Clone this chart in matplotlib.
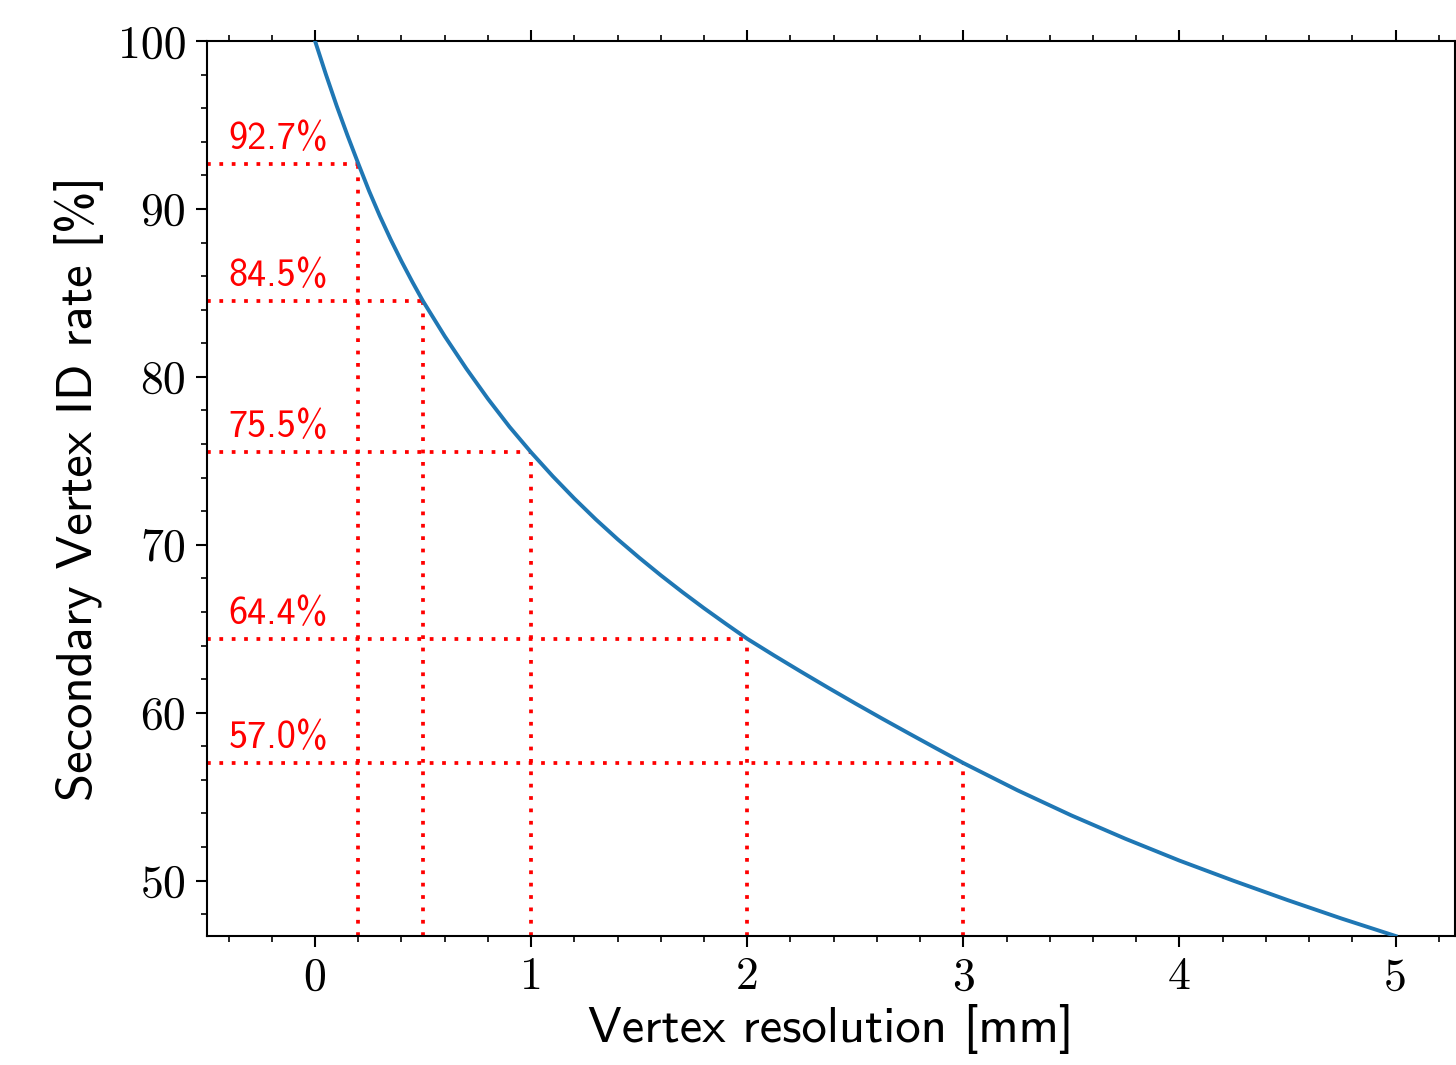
import matplotlib
matplotlib.use("Agg")
import matplotlib.pyplot as plt
from matplotlib.ticker import MultipleLocator

# Secondary vertex identification rate versus vertex resolution
resolution_mm = [0.0, 0.05, 0.1, 0.15, 0.2, 0.25, 0.3, 0.35, 0.4, 0.45, 0.5,
                 0.6, 0.7, 0.8, 0.9, 1.0, 1.1, 1.2, 1.3, 1.4, 1.5, 1.6, 1.7,
                 1.8, 1.9, 2.0, 2.125, 2.25, 2.375, 2.5, 2.625, 2.75, 2.875,
                 3.0, 3.25, 3.5, 3.75, 4.0, 4.25, 4.5, 4.75, 5.0]
id_rate_pct = [100.0, 98.02, 96.14, 94.38, 92.7, 91.07, 89.57, 88.18, 86.88, 85.66, 84.5,
               82.42, 80.49, 78.69, 77.02, 75.5, 74.08, 72.75, 71.5, 70.33, 69.23,
               68.18, 67.18, 66.22, 65.3, 64.4, 63.4, 62.43, 61.48, 60.55, 59.64,
               58.75, 57.87, 57.0, 55.38, 53.88, 52.49, 51.19, 49.99, 48.84, 47.74, 46.7]

# Highlighted working points
mark_res = [0.2, 0.5, 1.0, 2.0, 3.0]
mark_rate = [92.7, 84.5, 75.5, 64.4, 57.0]

x_ticks = [0, 1, 2, 3, 4, 5]
y_ticks = [50, 60, 70, 80, 90, 100]

serif = "cmr10"
sans = "cmss10"

fig = plt.figure(figsize=(14.56, 10.65), dpi=100)
ax = fig.add_axes([207 / 1456, 1 - 936 / 1065, 1248 / 1456, 895 / 1065])

xmin, xmax = -0.5, 5.275
ymin, ymax = 46.7, 100.0

ax.plot(resolution_mm, id_rate_pct, color="#1f77b4", lw=2.8, zorder=3,
        solid_joinstyle="round")

dots = (0, (1, 2.3))
for xr, yr in zip(mark_res, mark_rate):
    ax.plot([xmin, xr], [yr, yr], color="red", lw=2.7, linestyle=dots, zorder=2)
    ax.plot([xr, xr], [ymin, yr], color="red", lw=2.7, linestyle=dots, zorder=2)
    ax.annotate(f"{yr:.1f}%", xy=(-0.4, yr), xytext=(0, 5),
                textcoords="offset points", ha="left", va="bottom",
                color="red", fontsize=27.5, family=sans)

ax.set_xlim(xmin, xmax)
ax.set_ylim(ymin, ymax)

ax.set_xticks(x_ticks)
ax.set_xticklabels([str(v) for v in x_ticks])
ax.set_yticks(y_ticks)
ax.set_yticklabels([str(v) for v in y_ticks])
ax.xaxis.set_minor_locator(MultipleLocator(0.2))
ax.yaxis.set_minor_locator(MultipleLocator(2))

ax.tick_params(which="both", direction="out", top=True, right=False)
ax.tick_params(which="major", length=8, width=1.5, pad=7, labelsize=33)
ax.tick_params(which="minor", length=4.5, width=1.2)
for lab in ax.get_xticklabels() + ax.get_yticklabels():
    lab.set_family(serif)

for sp in ax.spines.values():
    sp.set_linewidth(1.5)

ax.set_xlabel("Vertex resolution [mm]", family=sans, fontsize=36.5, labelpad=4)
ax.set_ylabel("Secondary Vertex ID rate [%]", family=sans, fontsize=36.5, labelpad=10)

fig.savefig("out.png", dpi=100)
